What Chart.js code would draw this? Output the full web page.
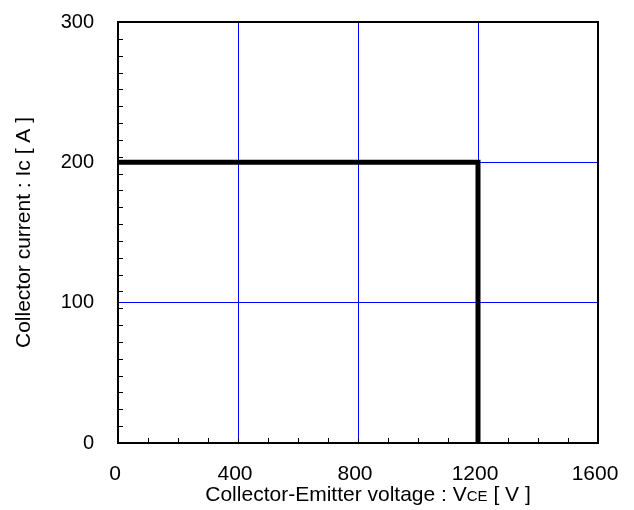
<!DOCTYPE html>
<html>
<head>
<meta charset="utf-8">
<script src="https://cdn.jsdelivr.net/npm/chart.js@4.4.0/dist/chart.umd.min.js"></script>
<style>
  html, body { margin: 0; padding: 0; background: #fff; }
  #wrap { width: 634px; height: 510px; }
</style>
</head>
<body>
<div id="wrap"><canvas id="soa"></canvas></div>
<script>
// RBSOA outline: collector current vs collector-emitter voltage
const vce = [0, 1200, 1200];
const ic = [200, 200, 0];

const xMin = 0, xMax = 1600, xStep = 400, xMinorStep = 100;
const yMin = 0, yMax = 300, yStep = 100, yMinorStep = 12;

const yTitle = 'Collector current : Ic [ A ]';
const xTitleParts = [
  { text: 'Collector-Emitter voltage : V', size: 21 },
  { text: 'CE', size: 15 },
  { text: ' [ V ]', size: 21 },
];

const FONT = 'Liberation Sans, Arial, sans-serif';

// frame, inward minor ticks and the x title with small "CE"
const decor = {
  id: 'decor',
  afterDraw(chart) {
    const { ctx, chartArea: a, scales: { x, y } } = chart;
    ctx.save();
    ctx.strokeStyle = '#000';
    ctx.lineWidth = 1;
    ctx.beginPath();
    for (let v = xMin + xMinorStep; v < xMax; v += xMinorStep) {
      const px = Math.round(x.getPixelForValue(v)) + 0.5;
      ctx.moveTo(px, a.bottom);
      ctx.lineTo(px, a.bottom - 5);
    }
    for (let v = yMin + yMinorStep; v < yMax; v += yMinorStep) {
      const py = Math.round(y.getPixelForValue(v)) + 0.5;
      ctx.moveTo(a.left, py);
      ctx.lineTo(a.left + 5, py);
    }
    ctx.stroke();

    ctx.lineWidth = 2;
    ctx.strokeRect(a.left, a.top, a.right - a.left, a.bottom - a.top);

    // x title
    let total = 0;
    xTitleParts.forEach(p => {
      ctx.font = p.size + 'px ' + FONT;
      p.w = ctx.measureText(p.text).width;
      total += p.w;
    });
    let cx = (a.left + a.right) / 2 + 10 - total / 2;
    ctx.fillStyle = '#000';
    ctx.textBaseline = 'alphabetic';
    ctx.textAlign = 'left';
    xTitleParts.forEach(p => {
      ctx.font = p.size + 'px ' + FONT;
      ctx.fillText(p.text, cx, 501);
      cx += p.w;
    });
    ctx.restore();
  }
};

new Chart(document.getElementById('soa'), {
  type: 'line',
  data: {
    datasets: [{
      data: vce.map((v, i) => ({ x: v, y: ic[i] })),
      borderColor: '#000',
      borderWidth: 5,
      pointRadius: 0,
      fill: false,
      tension: 0,
    }],
  },
  options: {
    responsive: true,
    maintainAspectRatio: false,
    animation: false,
    layout: { padding: { left: 0, right: 36, top: 22, bottom: 0 } },
    plugins: {
      legend: { display: false },
      tooltip: { enabled: false },
    },
    scales: {
      x: {
        type: 'linear',
        min: xMin,
        max: xMax,
        ticks: {
          stepSize: xStep, color: '#000', padding: 19, labelOffset: -3,
          font: { family: FONT, size: 21 },
          callback: (v) => String(v),
        },
        grid: { color: '#0000ff', lineWidth: 1, drawTicks: false },
        border: { color: '#000', width: 2 },
        afterFit: (s) => { s.height = 67; s.paddingLeft = 0; s.paddingRight = 0; },
      },
      y: {
        type: 'linear',
        min: yMin,
        max: yMax,
        ticks: {
          stepSize: yStep, color: '#000', padding: 24,
          font: { family: FONT, size: 20 },
          callback: (v) => String(v),
        },
        grid: { color: '#0000ff', lineWidth: 1, drawTicks: false },
        border: { color: '#000', width: 2 },
        title: {
          display: true,
          text: yTitle,
          color: '#000',
          padding: { top: 12, bottom: 0 },
          font: { family: FONT, size: 21 },
        },
        afterFit: (s) => { s.width = 118; s.paddingTop = 0; s.paddingBottom = 0; },
      },
    },
  },
  plugins: [decor],
});
</script>
</body>
</html>
